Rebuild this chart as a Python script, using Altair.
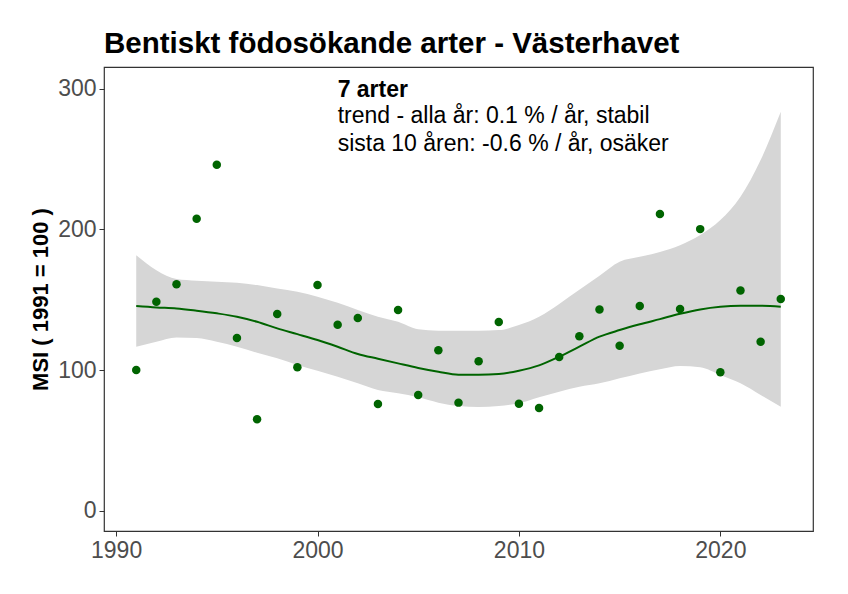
import altair as alt
import pandas as pd

years = list(range(1991, 2024))
msi = [100, 148.5, 161, 207.5, 246, 122.7, 65, 139.8, 102, 160.4,
       132.2, 137, 75.8, 142.6, 82.2, 114, 76.8, 106.2, 134.1, 76,
       73, 109.2, 124, 143.1, 117.3, 145.5, 211, 143.4, 200.2, 98.4,
       156.6, 120.1, 150.5]
fit = [145.5, 144.5, 143.8, 142.2, 140.3, 137.9, 134.3, 129.6, 125.5, 121.3,
       116.5, 111.4, 108, 104.7, 101.5, 98.8, 96.7, 96.7, 97.2, 99.5,
       103.3, 109.5, 116.6, 123.7, 128.4, 132.5, 136.2, 140, 143.1, 145,
       145.7, 145.7, 145]
lower = [116.6, 120.1, 123.2, 122.7, 120.1, 116.6, 112.3, 108.3, 103.6, 99.5,
         95.2, 90.5, 85.8, 83.4, 80.6, 76.8, 74.4, 73.7, 74.4, 76.3,
         80.6, 84.6, 88.1, 90.5, 94.1, 97.6, 100.5, 102.8, 101.9, 96.4,
         90.5, 82.2, 73.9]
upper = [181.6, 171, 164.7, 163.5, 162.8, 162, 160.4, 158, 155.7, 152.1,
         147.8, 142.6, 137.9, 134.3, 128.9, 127.9, 127.9, 128, 128.4, 132,
         137.9, 147, 157, 167, 177, 180.5, 184, 188.8, 196, 206.6,
         223.2, 249.3, 283.6]

x_ticks = [1990, 2000, 2010, 2020]
y_ticks = [0, 100, 200, 300]

title_text = "Bentiskt födosökande arter - Västerhavet"
note_head = "7 arter"
note_lines = ["trend - alla år: 0.1 % / år, stabil",
              "sista 10 åren: -0.6 % / år, osäker"]
note_x = 2001
note_head_y = 294
note_y = [275.5, 256]

df = pd.DataFrame({"year": years, "msi": msi, "fit": fit,
                   "lower": lower, "upper": upper})

FONT = "Liberation Sans"
GREEN = "#006400"

xs = alt.Scale(domain=[1989.4, 2024.6], nice=False, zero=False)
ys = alt.Scale(domain=[-14.5, 315.5], nice=False, zero=False)

xaxis = alt.Axis(values=x_ticks, format="d", title=None)
yaxis = alt.Axis(values=y_ticks, title="MSI ( 1991 = 100 )")

base = alt.Chart(df)

band = base.mark_area(color="#D6D6D6", interpolate="monotone").encode(
    x=alt.X("year:Q", scale=xs, axis=xaxis),
    y=alt.Y("lower:Q", scale=ys, axis=yaxis),
    y2="upper:Q",
)

line = base.mark_line(color=GREEN, strokeWidth=2, interpolate="monotone").encode(
    x=alt.X("year:Q", scale=xs),
    y=alt.Y("fit:Q", scale=ys),
)

pts = base.mark_circle(color=GREEN, opacity=1, size=72).encode(
    x=alt.X("year:Q", scale=xs),
    y=alt.Y("msi:Q", scale=ys),
)

head = alt.Chart(pd.DataFrame({"x": [note_x], "y": [note_head_y], "t": [note_head]})).mark_text(
    align="left", baseline="alphabetic", fontSize=23, fontWeight="bold", font=FONT, color="black"
).encode(x=alt.X("x:Q", scale=xs), y=alt.Y("y:Q", scale=ys), text="t:N")

body = alt.Chart(pd.DataFrame({"x": [note_x] * 2, "y": note_y, "t": note_lines})).mark_text(
    align="left", baseline="alphabetic", fontSize=23, font=FONT, color="black"
).encode(x=alt.X("x:Q", scale=xs), y=alt.Y("y:Q", scale=ys), text="t:N")

chart = (band + line + pts + head + body).properties(
    width=709, height=464,
    title=alt.TitleParams(title_text, anchor="start", frame="group", fontSize=29.5,
                          fontWeight="bold", font=FONT, color="black", offset=8),
    autosize=alt.AutoSizeParams(type="none"),
    padding={"left": 96, "top": 59, "right": 20, "bottom": 45},
).configure_view(
    stroke="#333333", strokeWidth=1.2
).configure_axis(
    domain=False, grid=False, ticks=True, tickColor="#333333", tickSize=5,
    labelColor="#4D4D4D", labelFontSize=23, labelFont=FONT, labelPadding=3,
    titleFont=FONT, titleFontSize=22, titleFontWeight="bold", titleColor="black",
).configure_axisY(titlePadding=5)

chart.save("out.html", embed_options={"renderer": "svg", "actions": False})
